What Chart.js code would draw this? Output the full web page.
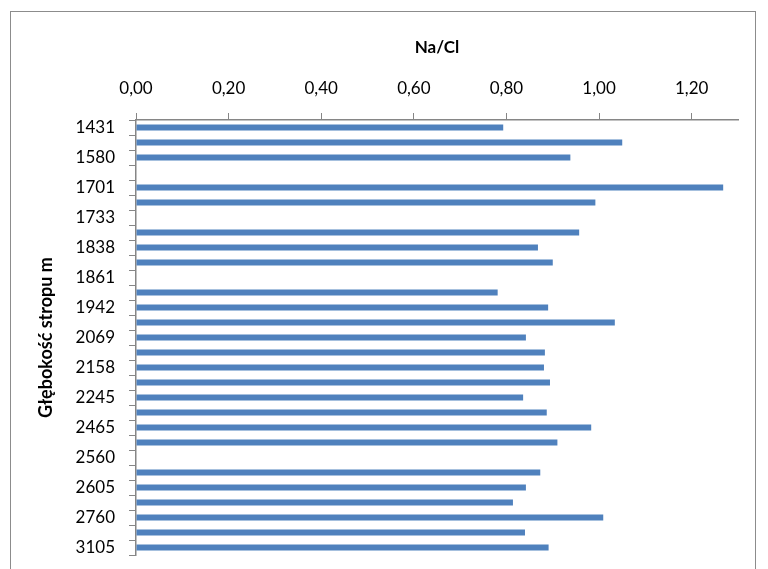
<!DOCTYPE html>
<html>
<head>
<meta charset="utf-8">
<script src="https://cdn.jsdelivr.net/npm/chart.js@4/dist/chart.umd.min.js"></script>
<style>
  html, body { margin: 0; padding: 0; background: #fff; }
  #wrap { position: relative; width: 768px; height: 569px; overflow: hidden; }
  #frame { position: absolute; left: 10px; top: 11px; width: 746px; height: 600px;
           border: 1px solid #8c8c8c; box-sizing: border-box; pointer-events: none; }
  canvas { position: absolute; left: 0; top: 0; }
</style>
</head>
<body>
<div id="wrap">
  <canvas id="c" width="768" height="569"></canvas>
  <div id="frame"></div>
</div>
<script>
// Depth of the layer top (m); only every second depth carries a label
const depths = [
  '1431', '', '1580', '', '1701', '', '1733', '', '1838', '', '1861', '',
  '1942', '', '2069', '', '2158', '', '2245', '', '2465', '', '2560', '',
  '2605', '', '2760', '', '3105'
];

// Na/Cl ratio per sample (null = no value)
const naClRatio = [
  0.793, 1.050, 0.938, null, 1.268, 0.992, null, 0.957, 0.868, 0.900, null,
  0.781, 0.890, 1.034, 0.842, 0.883, 0.881, 0.894, 0.836, 0.887, 0.983,
  0.910, null, 0.873, 0.842, 0.814, 1.009, 0.840, 0.891
];

// Value axis tick labels
const ratioTicks = [0.0, 0.2, 0.4, 0.6, 0.8, 1.0, 1.2];

const axisGrey = '#868686';
const fontFamily = 'Lato, "Open Sans", sans-serif';

new Chart(document.getElementById('c'), {
  type: 'bar',
  data: {
    labels: depths,
    datasets: [{
      data: naClRatio,
      backgroundColor: '#4F81BD',
      borderWidth: 0,
      categoryPercentage: 1.0,
      barPercentage: 0.4
    }]
  },
  options: {
    indexAxis: 'y',
    responsive: false,
    animation: false,
    layout: { padding: { left: 0, top: 0, right: 30, bottom: 14 } },
    plugins: { legend: { display: false }, tooltip: { enabled: false } },
    scales: {
      x: {
        position: 'top',
        min: 0,
        max: 1.3,
        afterBuildTicks: s => {
          s.ticks = ratioTicks.map(v => ({ value: v }));
        },
        afterFit: s => { s.height = 120; s.paddingLeft = 0; s.paddingRight = 0; },
        ticks: {
          color: '#000',
          font: { family: fontFamily, size: 17 },
          padding: 14,
          maxRotation: 0,
          callback: v => Number(v).toFixed(2).replace('.', ',')
        },
        grid: {
          drawOnChartArea: false,
          drawTicks: true,
          tickLength: 7,
          color: axisGrey
        },
        border: { display: true, color: axisGrey, width: 1.5 },
        title: {
          display: true,
          text: 'Na/Cl',
          color: '#000',
          font: { family: fontFamily, size: 17, weight: 'bold' },
          padding: { top: 37, bottom: 0 }
        }
      },
      y: {
        afterFit: s => { s.width = 136; s.paddingTop = 0; s.paddingBottom = 0; },
        ticks: {
          autoSkip: false,
          color: '#000',
          font: { family: fontFamily, size: 17 },
          padding: 14
        },
        grid: {
          offset: true,
          drawOnChartArea: false,
          drawTicks: true,
          tickLength: 7,
          color: axisGrey
        },
        border: { display: true, color: axisGrey, width: 1.5 },
        title: {
          display: true,
          text: 'Głębokość stropu m',
          color: '#000',
          font: { family: fontFamily, size: 18, weight: 'bold' },
          padding: { top: 35, bottom: 0 }
        }
      }
    }
  }
});
</script>
</body>
</html>
